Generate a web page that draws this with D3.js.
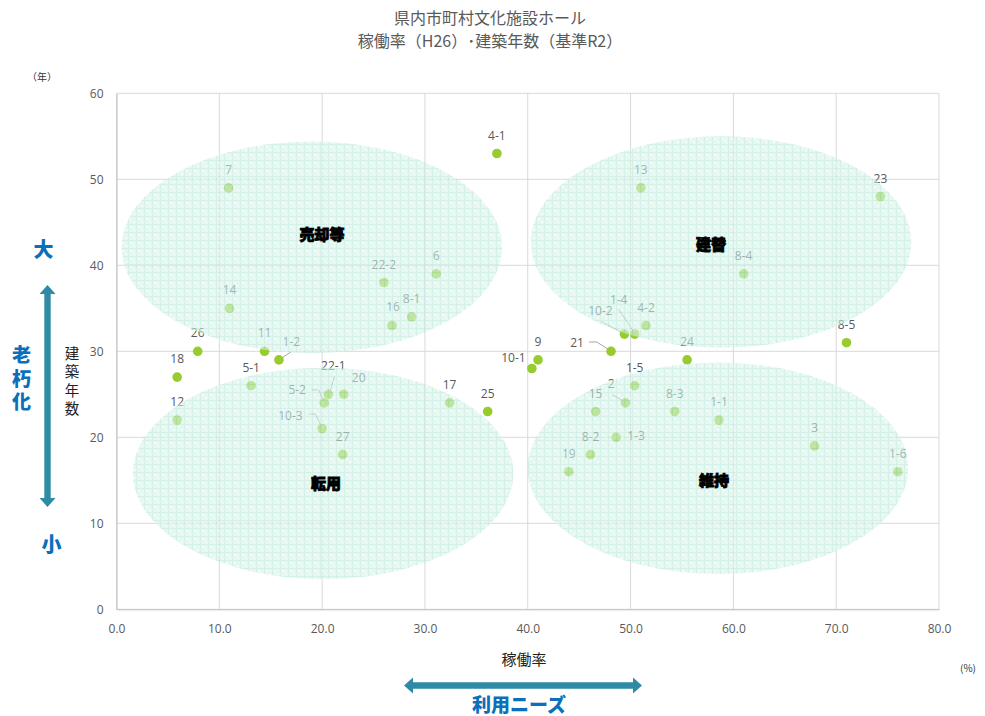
<!DOCTYPE html>
<html>
<head>
<meta charset="utf-8">
<script src="https://cdn.jsdelivr.net/npm/d3@7"></script>
<style>
  body { margin: 0; background: #fff; }
  svg { display: block; font-family: "Noto Sans CJK JP", "Noto Sans", sans-serif; }
  .vertical { writing-mode: vertical-rl; text-orientation: upright; }
</style>
</head>
<body>
<svg id="chart" width="985" height="716"></svg>
<script>
// Facility codes, operating rate (%) and building age (years)
const facilities = ["7","4-1","13","23","6","8-4","22-2","14","8-1","16","4-2","10-2","1-4","8-5",
  "26","11","21","1-2","9","24","10-1","18","5-1","1-5","22-1","20","5-2","17","2","25","15",
  "8-3","12","1-1","10-3","1-3","3","27","8-2","19","1-6"];
const operatingRate = [10.9,37.0,51.0,74.3,31.1,61.0,26.0,11.0,28.7,26.8,51.5,49.4,50.4,71.0,
  7.9,14.4,48.1,15.8,41.0,55.5,40.4,5.9,13.1,50.4,20.6,22.1,20.2,32.4,49.5,36.1,46.6,
  54.3,5.9,58.6,20.0,48.6,67.9,22.0,46.1,44.0,76.0];
const buildingAge = [49,53,49,48,39,39,38,35,34,33,33,32,32,31,
  30,30,30,29,29,29,28,27,26,26,25,25,24,24,24,23,23,
  23,22,22,21,20,19,18,18,16,16];

const xTicks = [0,10,20,30,40,50,60,70,80];
const yTicks = [0,10,20,30,40,50,60];

// Policy zones (centre in data units)
const zoneNames = ["売却等","建替","転用","維持"];
const zoneCx = [19.0,58.8,20.1,58.5];
const zoneCy = [42.1,42.7,15.8,16.4];

const svg = d3.select("#chart");
const plot = {left: 116.5, right: 939, top: 93.3, bottom: 609.3};
const x = d3.scaleLinear().domain([0,80]).range([plot.left, plot.right]);
const y = d3.scaleLinear().domain([0,60]).range([plot.bottom, plot.top]);

const textGray = "#595959";

// Title
const title = svg.append("text").attr("x", 490).attr("text-anchor","middle")
  .attr("fill", textGray).attr("font-size", 16);
title.append("tspan").attr("x", 490).attr("y", 24).text("県内市町村文化施設ホール");
title.append("tspan").attr("x", 490).attr("y", 47).text("稼働率（H26）･建築年数（基準R2）");

// Gridlines
svg.append("g").selectAll("line.v").data(xTicks).join("line")
  .attr("x1", d => x(d)).attr("x2", d => x(d))
  .attr("y1", plot.top).attr("y2", plot.bottom)
  .attr("stroke", "#d9d9d9").attr("stroke-width", 1);
svg.append("g").selectAll("line.h").data(yTicks).join("line")
  .attr("x1", plot.left).attr("x2", plot.right)
  .attr("y1", d => y(d)).attr("y2", d => y(d))
  .attr("stroke", "#d9d9d9").attr("stroke-width", 1);

// Axes
const xAxis = svg.append("g").attr("transform", `translate(0,${plot.bottom})`)
  .call(d3.axisBottom(x).tickValues(xTicks).tickFormat(d3.format(".1f")).tickSize(0).tickPadding(15));
const yAxis = svg.append("g").attr("transform", `translate(${plot.left},0)`)
  .call(d3.axisLeft(y).tickValues(yTicks).tickFormat(d3.format("d")).tickSize(0).tickPadding(13));
[xAxis, yAxis].forEach(a => {
  a.select(".domain").attr("stroke", "#bfbfbf");
  a.selectAll("text").attr("fill", textGray).attr("font-size", 12)
    .attr("font-family", "'Open Sans', 'Noto Sans', sans-serif");
});

// Units and axis titles
svg.append("text").attr("x", 42).attr("y", 81).attr("text-anchor","middle")
  .attr("font-size", 10).attr("fill", "#333").text("（年）");
svg.append("text").attr("x", 968).attr("y", 672).attr("text-anchor","middle")
  .attr("font-size", 10).attr("fill", "#333").text("(%)");
svg.append("text").attr("x", 524).attr("y", 665).attr("text-anchor","middle")
  .attr("font-size", 15).attr("fill", "#222").text("稼働率");
svg.append("text").attr("class", "vertical").attr("x", 72).attr("y", 383)
  .attr("text-anchor","middle").attr("letter-spacing", 3.8)
  .attr("font-size", 14.5).attr("fill", "#222").text("建築年数");

// Scatter points
const pts = facilities.map((n, i) => ({name: n, rate: operatingRate[i], age: buildingAge[i]}));
svg.append("g").selectAll("circle").data(pts).join("circle")
  .attr("cx", d => x(d.rate)).attr("cy", d => y(d.age)).attr("r", 4.8)
  .attr("fill", "#97cc2e");

// Label placement: offset of label centre from its point, optional leader path
const labelLayout = {
  "1-2":  {dx: 12.4, dy: -18.3, lead: [[3,-2],[12,-8]]},
  "22-1": {dx: 5, dy: -29, lead: [[6,-17.6],[1.7,-2.6]]},
  "5-2":  {dx: -27, dy: -13, lead: [[-12.7,-13],[-5.4,-13],[-1,-2.6]]},
  "10-3": {dx: -31.7, dy: -13.3, lead: [[-13.4,-14.6],[-6.7,-14.6],[-1,-2.6]]},
  "1-4":  {dx: -16, dy: -35, lead: [[-16,-24.7],[-1,-2.3]]},
  "10-2": {dx: -24, dy: -23.6, lead: [[-23.3,-12.6],[-2.3,-1.6]]},
  "21":   {dx: -34, dy: -8.5, lead: [[-22,-9.3],[-14.3,-9.3],[-1,-1]]},
  "2":    {dx: -14.3, dy: -19, lead: [[-13.3,-8.3],[-1.7,-1.6]]},
  "20":   {dx: 15, dy: -16.6},
  "16":   {dx: 1, dy: -19},
  "10-1": {dx: -18.4, dy: -11},
  "1-3":  {dx: 20, dy: -2}
};
const lay = d => labelLayout[d.name] || {dx: 0, dy: -18.5};

svg.append("g").selectAll("path").data(pts.filter(d => lay(d).lead)).join("path")
  .attr("d", d => d3.line()(lay(d).lead.map(p => [x(d.rate) + p[0], y(d.age) + p[1]])))
  .attr("fill", "none").attr("stroke", "#a6a6a6").attr("stroke-width", 1);

svg.append("g").selectAll("text").data(pts).join("text")
  .attr("x", d => x(d.rate) + lay(d).dx)
  .attr("y", d => y(d.age) + lay(d).dy)
  .attr("text-anchor", "middle").attr("dominant-baseline", "central")
  .attr("font-family", "'Open Sans', 'Noto Sans', sans-serif")
  .attr("font-size", 12).attr("fill", textGray).text(d => d.name);

// Zone fill pattern: fine mint grid texture
const defs = svg.append("defs");
const pat = defs.append("pattern").attr("id", "zoneFill")
  .attr("patternUnits", "userSpaceOnUse").attr("width", 8).attr("height", 8);
pat.append("rect").attr("width", 8).attr("height", 8).attr("fill", "#d6f2ea");
pat.append("rect").attr("x", 2).attr("y", 2).attr("width", 2).attr("height", 2).attr("fill", "#eaf8f4");
pat.append("rect").attr("x", 5).attr("y", 5).attr("width", 2).attr("height", 2).attr("fill", "#eaf8f4");
pat.append("path").attr("d", "M0,0.5H8M0.5,0V8").attr("stroke", "#b8e7d9").attr("stroke-width", 1);

const zones = zoneNames.map((n, i) => ({name: n, cx: zoneCx[i], cy: zoneCy[i]}));
const zoneRx = x(18.5) - x(0), zoneRy = y(0) - y(12.3);
svg.append("g").selectAll("ellipse").data(zones).join("ellipse")
  .attr("cx", d => x(d.cx)).attr("cy", d => y(d.cy))
  .attr("rx", zoneRx).attr("ry", zoneRy)
  .attr("fill", "url(#zoneFill)").attr("opacity", 0.6);

// Zone captions
const zoneText = [[322,233],[711,243],[326,482],[714,479]];
svg.append("g").selectAll("text").data(zones).join("text")
  .attr("x", (d, i) => zoneText[i][0]).attr("y", (d, i) => zoneText[i][1])
  .attr("text-anchor", "middle").attr("dominant-baseline", "central")
  .attr("font-size", 15).attr("font-weight", 900).attr("fill", "#000")
  .attr("stroke", "#000").attr("stroke-width", 0.8)
  .text(d => d.name);

// Direction arrows and captions
const arrowColor = "#2e8aa5";
function arrow(x1, y1, x2, y2) {
  const len = Math.hypot(x2 - x1, y2 - y1), ang = Math.atan2(y2 - y1, x2 - x1) * 180 / Math.PI;
  const g = svg.append("g").attr("transform", `translate(${x1},${y1}) rotate(${ang})`);
  const hl = 9, hw = 8, sw = 3.2;
  g.append("path").attr("fill", arrowColor)
    .attr("d", `M0,0 L${hl},${-hw} L${hl},${-sw} L${len - hl},${-sw} L${len - hl},${-hw} L${len},0
                L${len - hl},${hw} L${len - hl},${sw} L${hl},${sw} L${hl},${hw} Z`);
}
arrow(47.5, 285, 47.5, 507);
arrow(404, 685.5, 642, 685.5);

const blue = "#0b6fba";
const blueText = (tx, ty, t, fs) => svg.append("text").attr("x", tx).attr("y", ty)
  .attr("text-anchor","middle").attr("dominant-baseline","central")
  .attr("font-size", fs || 20).attr("font-weight", 900).attr("fill", blue).text(t);
blueText(43.5, 248, "大");
blueText(51.5, 543, "小");
blueText(519, 703, "利用ニーズ", 19);
svg.append("text").attr("class", "vertical").attr("x", 21.5).attr("y", 381)
  .attr("text-anchor","middle").attr("letter-spacing", 4.5)
  .attr("font-size", 19).attr("font-weight", 900).attr("fill", blue).text("老朽化");
</script>
</body>
</html>
